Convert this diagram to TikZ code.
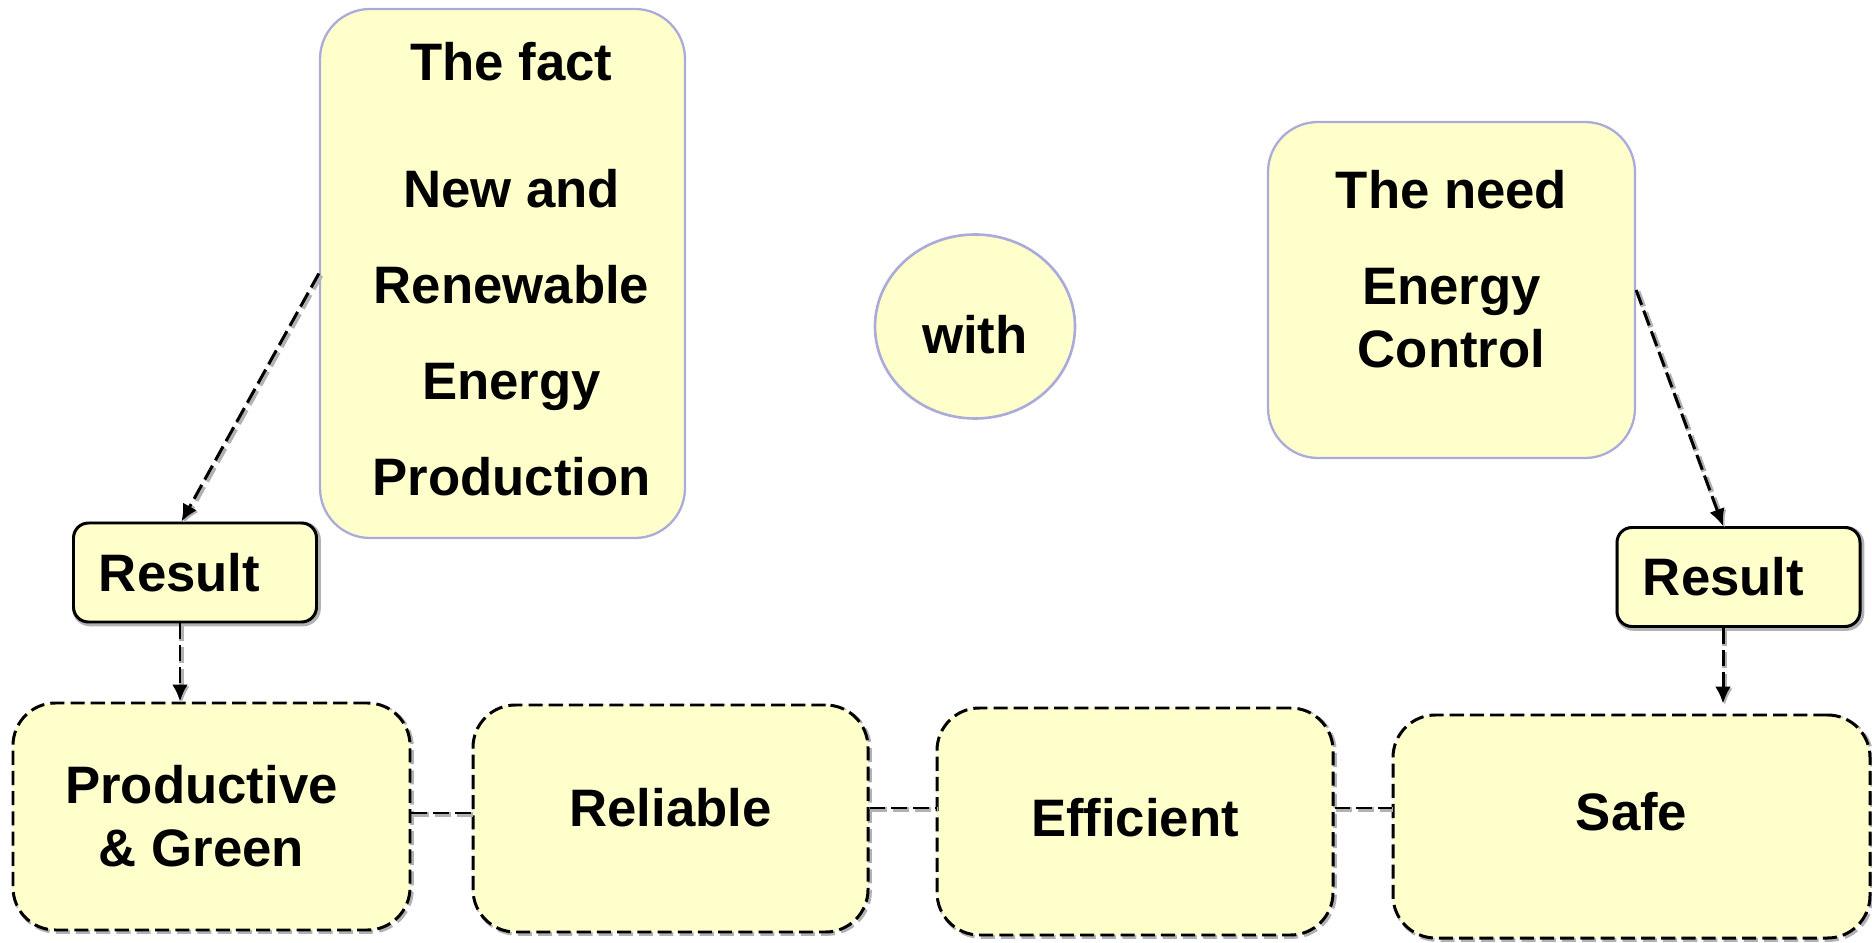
\documentclass[tikz,border=0pt]{standalone}
\usepackage{fontspec}
\setmainfont{Liberation Sans}
\usetikzlibrary{arrows.meta, shapes.geometric}
\definecolor{paleyellow}{HTML}{FFFFCC}
\definecolor{paleblue}{HTML}{ABABDA}

\begin{document}
\begin{tikzpicture}[
    >={Latex[length = .34cm, width = .32cm]},
    every node/.style = {font = \fontsize{30}{36}\selectfont\bfseries},
    fadeframe/.style = {draw = paleblue, line width = 1.3pt, fill = paleyellow, rounded corners = 1cm},
    resultbox/.style = {draw, line width = 1.7pt, fill = paleyellow, rounded corners = .3cm,
        minimum width = 4.86cm, minimum height = 1.98cm,
        preaction = {draw = gray!60, line width = 3.2pt, transform canvas = {shift = {(.03, -.03)}}}},
    qualitybox/.style = {draw, line width = 1.7pt, dash pattern = on 8pt off 3.5pt, fill = paleyellow,
        rounded corners = .85cm, minimum height = 4.54cm,
        preaction = {draw = gray!60, line width = 2.4pt, dash pattern = on 8pt off 3.5pt,
            transform canvas = {shift = {(.035, -.035)}}}},
    link/.style = {line width = 1.7pt, dash pattern = on 9pt off 3.5pt,
        preaction = {draw = gray!60, line width = 3pt, dash pattern = on 9pt off 3.5pt,
            transform canvas = {shift = {(.035, -.035)}}}}
]
    \useasboundingbox (0, 0) rectangle (37.44, 18.84);

    % top row
    \node (fact) [fadeframe, minimum width = 7.3cm, minimum height = 10.58cm] at (10.05, 13.37) {};
    \node (facttext) [align = center] at ([xshift = .18cm, yshift = .08cm]fact.center)
        {The fact\\[36.3pt]New and\\[18.6pt]Renewable\\[18.6pt]Energy\\[18.6pt]Production};
    \node (with) [ellipse, draw = paleblue, line width = 1.5pt, fill = paleyellow,
        minimum width = 4cm, minimum height = 3.68cm, text height = 1.09cm] at (19.5, 12.31) {with};
    \node (need) [fadeframe, minimum width = 7.34cm, minimum height = 6.72cm] at (29.03, 13.04) {};
    \node (needtext) [align = center] at ([yshift = .42cm]need.center) {The need\\[18.6pt]Energy\\Control};

    \node (result1) [resultbox] at (3.9, 7.39) {Result\hspace*{.62cm}};
    \node (result2) [resultbox] at (34.77, 7.30) {Result\hspace*{.6cm}};

    % bottom row
    \node (productive) [qualitybox, minimum width = 7.94cm, align = center] at (4.23, 2.51)
        {Productive\hspace*{.4cm}\\\& Green\hspace*{.4cm}};
    \node (reliable) [qualitybox, minimum width = 7.9cm, text depth = .46cm] at (13.41, 2.47) {Reliable};
    \node (efficient) [qualitybox, minimum width = 7.92cm, text depth = .16cm] at (22.7, 2.41) {Efficient};
    \node (safe) [qualitybox, minimum width = 9.54cm, minimum height = 4.46cm, text depth = .6cm] at (32.63, 2.31) {Safe};

    \coordinate (drop1) at ([xshift = -.3cm]result1.south);
    \coordinate (drop2) at ([xshift = -.31cm]result2.south);

    \draw [link, ->] (fact.west)  --  ([xshift = -.27cm]result1.north);
    \draw [link, ->] (drop1)  --  (drop1 |- productive.north);
    \draw [link, ->] (need.east)  --  ([xshift = -.31cm]result2.north);
    \draw [link, ->] (drop2)  --  ([yshift = .2cm]drop2 |- safe.north);

    \draw [link] ([yshift = .07cm]productive.east)  --  ([yshift = .07cm]productive.east -| reliable.west);
    \draw [link] ([yshift = .21cm]reliable.east)  --  ([yshift = .21cm]reliable.east -| efficient.west);
    \draw [link] ([yshift = .27cm]efficient.east)  --  ([yshift = .27cm]efficient.east -| safe.west);

\end{tikzpicture}
\end{document}
